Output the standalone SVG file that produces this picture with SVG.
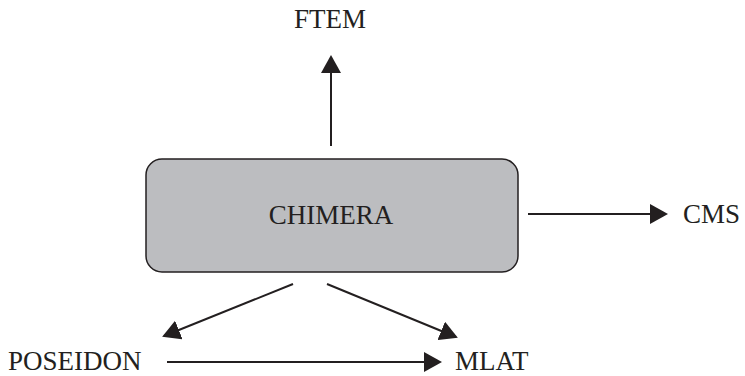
<svg xmlns="http://www.w3.org/2000/svg" width="745" height="376" viewBox="0 0 745 376">
<style>
.lbl{font-family:"Liberation Serif","Times New Roman",serif;font-size:27px;fill:#231f20}
.conn{stroke:#231f20;stroke-width:2;fill:none}
</style>
<defs>
<marker id="ah" viewBox="0 0 18 20" refX="16" refY="10" markerWidth="18" markerHeight="20" markerUnits="userSpaceOnUse" orient="auto">
<path d="M0,0 L18,10 L0,20 z" fill="#231f20"/>
</marker>
</defs>
<rect width="745" height="376" fill="#ffffff"/>
<g id="chimera">
<rect x="146" y="159" width="372" height="113" rx="16" ry="16" fill="#bcbdc0" stroke="#231f20" stroke-width="1.5"/>
<text class="lbl" x="331" y="224" text-anchor="middle">CHIMERA</text>
</g>
<g id="ftem"><text class="lbl" x="330" y="28" text-anchor="middle">FTEM</text></g>
<g id="cms"><text class="lbl" x="683" y="223">CMS</text></g>
<g id="poseidon"><text class="lbl" x="8" y="370">POSEIDON</text></g>
<g id="mlat"><text class="lbl" x="455" y="370">MLAT</text></g>
<g id="connectors">
<line class="conn" x1="331" y1="146" x2="331" y2="57" marker-end="url(#ah)"/>
<line class="conn" x1="528" y1="214" x2="666" y2="214" marker-end="url(#ah)"/>
<line class="conn" x1="293" y1="284" x2="164" y2="336" marker-end="url(#ah)"/>
<line class="conn" x1="327" y1="284" x2="456" y2="337" marker-end="url(#ah)"/>
<line class="conn" x1="167" y1="362" x2="440" y2="362" marker-end="url(#ah)"/>
</g>
</svg>
